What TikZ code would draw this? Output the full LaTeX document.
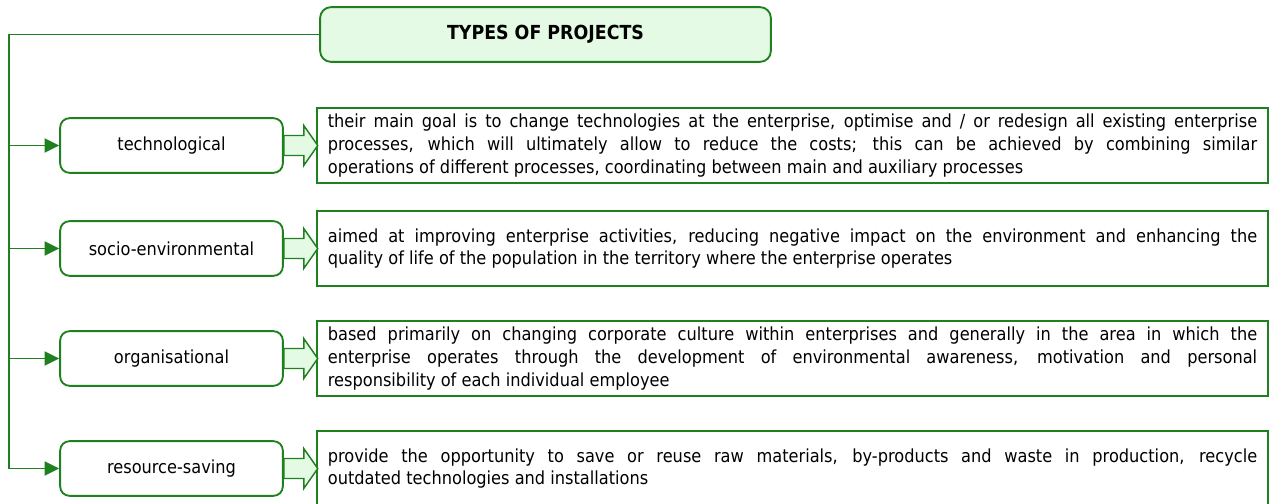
\documentclass[tikz,border=0pt]{standalone}
\usepackage{fontspec}
\setmainfont{DejaVu Sans}[FakeStretch=0.9]
\usetikzlibrary{arrows.meta}

\definecolor{edgegreen}{RGB}{30,128,30}
\definecolor{fillgreen}{RGB}{229,250,229}

\tikzset{
  titlebox/.style={draw=edgegreen, fill=fillgreen, line width=1.4pt, rounded corners=8pt,
    minimum width=338pt, minimum height=41pt, font=\fontsize{14.5}{16}\selectfont\bfseries},
  typebox/.style={draw=edgegreen, fill=white, line width=1.4pt, rounded corners=7pt,
    minimum width=167pt, minimum height=41pt, font=\fontsize{13.5}{15}\selectfont},
  descbox/.style={draw=edgegreen, line width=1.4pt, minimum width=713pt, minimum height=56pt,
    inner xsep=8pt, text width=697pt, align=justify, font=\fontsize{13.5}{17.2}\selectfont},
  trunk/.style={draw=edgegreen, line width=1.4pt},
  fatarrow/.style={draw=edgegreen, fill=fillgreen, line width=1.1pt, line join=miter}
}

\begin{document}
\begin{tikzpicture}[x=0.75pt,y=-0.75pt]
    \useasboundingbox (0,0) rectangle (1269,503);
    \clip (0,0) rectangle (1269,503);

    \node[titlebox] (types) at (545.5,34.5) {TYPES OF PROJECTS};

    % kinds of projects
    \node[typebox] (tech) at (171.5,145.5) {technological};
    \node[typebox] (socio) at (171.5,248.5) {socio-environmental};
    \node[typebox] (org) at (171.5,358.5) {organisational};
    \node[typebox] (res) at (171.5,468.5) {resource-saving};

    % what each kind means
    \node[descbox] (techdesc) at (792.5,145.5) {their main goal is to change technologies at the enterprise, optimise and / or redesign all existing enterprise\linebreak processes, which will ultimately allow to reduce the costs; this can be achieved by combining similar\linebreak operations of different processes, coordinating between main and auxiliary processes};
    \node[descbox] (sociodesc) at (792.5,248.5) {aimed at improving enterprise activities, reducing negative impact on the environment and enhancing the\linebreak quality of life of the population in the territory where the enterprise operates};
    \node[descbox] (orgdesc) at (792.5,358.5) {based primarily on changing corporate culture within enterprises and generally in the area in which the\linebreak enterprise operates through the development of environmental awareness, motivation and personal\linebreak responsibility of each individual employee};
    \node[descbox] (resdesc) at (792.5,468.5) {provide the opportunity to save or reuse raw materials, by-products and waste in production, recycle\linebreak outdated technologies and installations};

    % trunk on the left
    \coordinate (corner) at (9,34.5);
    \draw[trunk,-{Triangle[length=11pt,width=10.5pt]}] (types.west) -- (corner) |- (res.west);
    \draw[trunk,-{Triangle[length=11pt,width=10.5pt]}] (corner |- tech.west) -- (tech.west);
    \draw[trunk,-{Triangle[length=11pt,width=10.5pt]}] (corner |- socio.west) -- (socio.west);
    \draw[trunk,-{Triangle[length=11pt,width=10.5pt]}] (corner |- org.west) -- (org.west);

    % block arrows
    \foreach \n in {tech,socio,org,res}
        \draw[fatarrow] (\n.east) ++(0,-10) -- ++(20,0) -- ++(0,-10) -- ++(14,20) -- ++(-14,20) -- ++(0,-10) -- ++(-20,0) -- cycle;

\end{tikzpicture}
\end{document}
